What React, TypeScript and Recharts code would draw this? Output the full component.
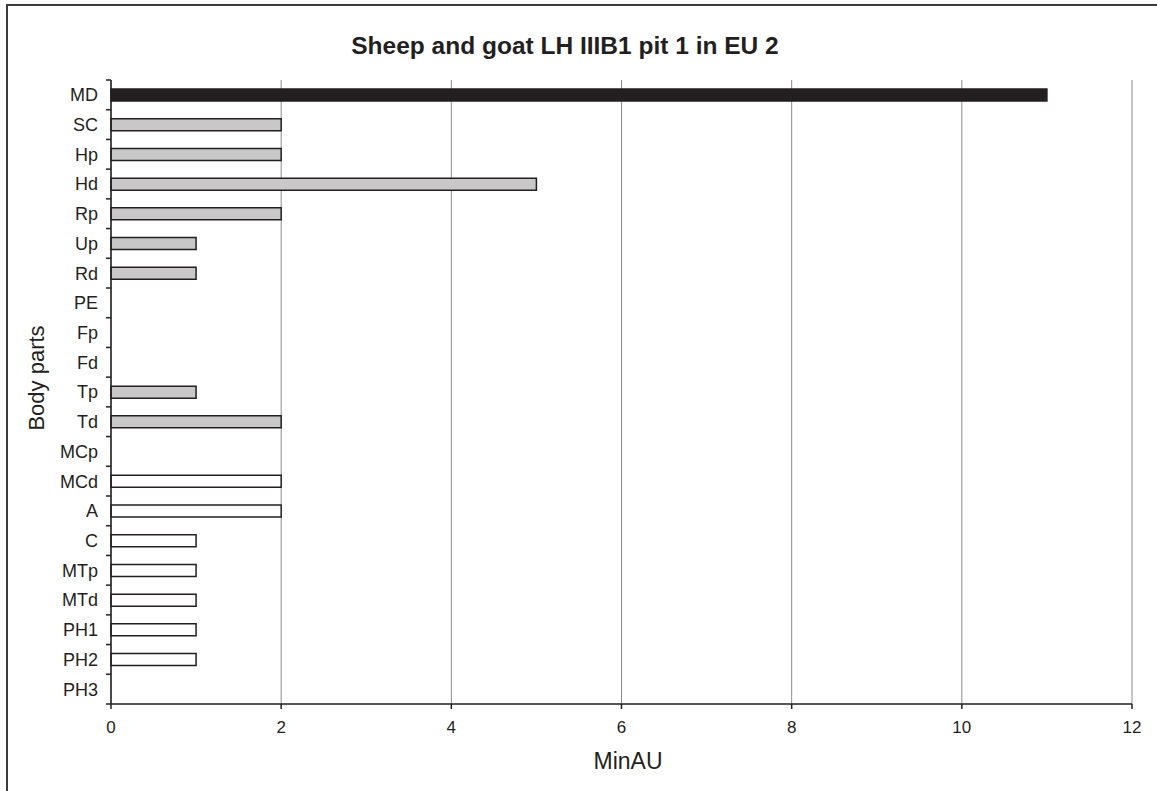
import React from 'react';
import { BarChart, Bar, XAxis, YAxis, CartesianGrid, Cell } from 'recharts';

const categories = ['MD', 'SC', 'Hp', 'Hd', 'Rp', 'Up', 'Rd', 'PE', 'Fp', 'Fd', 'Tp', 'Td', 'MCp', 'MCd', 'A', 'C', 'MTp', 'MTd', 'PH1', 'PH2', 'PH3'];
const minAU = [11, 2, 2, 5, 2, 1, 1, 0, 0, 0, 1, 2, 0, 2, 2, 1, 1, 1, 1, 1, 0];
const groups = ['head', 'fore', 'fore', 'fore', 'fore', 'fore', 'fore', 'hind', 'hind', 'hind', 'hind', 'hind', 'foot', 'foot', 'foot', 'foot', 'foot', 'foot', 'foot', 'foot', 'foot'];
const groupFill: Record<string, string> = { head: '#231f20', fore: '#c8c8c8', hind: '#c8c8c8', foot: '#ffffff' };
const xTicks = [0, 2, 4, 6, 8, 10, 12];

const data = categories.map((name, i) => ({ name, value: minAU[i], group: groups[i] }));

const FONT = '"Liberation Sans", Arial, Helvetica, sans-serif';
const INK = '#231f20';
const AXIS_X = 111;

const CategoryTick = (props: any) => {
  const { x, y, payload, index, visibleTicksCount } = props;
  const half = payload && payload.offset ? payload.offset : 0;
  const axisX = x + 13;
  const isLast = index === visibleTicksCount - 1;
  return (
    <g>
      <line x1={axisX - 5} x2={axisX} y1={y - half} y2={y - half} stroke={INK} strokeWidth={1.5} />
      {isLast && <line x1={axisX - 5} x2={axisX} y1={y + half} y2={y + half} stroke={INK} strokeWidth={1.5} />}
      <text x={x} y={y} dy="0.36em" textAnchor="end" fontFamily={FONT} fontSize={18} fill={INK}>
        {payload.value}
      </text>
    </g>
  );
};

const NumberTick = (props: any) => {
  const { x, y, payload } = props;
  return (
    <text x={x} y={y} dy="0.71em" textAnchor="middle" fontFamily={FONT} fontSize={17} fill={INK}>
      {payload.value}
    </text>
  );
};

export default function App() {
  return (
    <div style={{ position: 'absolute', left: 0, top: 0, width: 1157, height: 791, overflow: 'hidden', background: '#fff', fontFamily: FONT }}>
      <div style={{ position: 'absolute', left: 6, top: 4, width: 1300, height: 1000, border: '2px solid #3a3a3a', boxSizing: 'border-box' }} />
      <div style={{ position: 'absolute', left: 0, top: 0 }}>
        <BarChart
          width={1157}
          height={791}
          data={data}
          layout="vertical"
          margin={{ top: 80, right: 25, bottom: 57, left: 11 }}
          barCategoryGap={0}
        >
          <CartesianGrid horizontal={false} vertical={true} stroke="#8c8c8c" strokeWidth={1} />
          <XAxis
            type="number"
            domain={[0, 12]}
            ticks={xTicks}
            height={30}
            axisLine={{ stroke: INK, strokeWidth: 1.5 }}
            tickLine={{ stroke: INK, strokeWidth: 1.5 }}
            tickSize={5}
            tickMargin={12}
            tick={<NumberTick />}
            interval={0}
          />
          <YAxis
            type="category"
            dataKey="name"
            width={100}
            axisLine={{ stroke: INK, strokeWidth: 1.5 }}
            tickLine={false}
            tickSize={5}
            tickMargin={8}
            interval={0}
            tick={<CategoryTick />}
          />
          <Bar dataKey="value" barSize={12} stroke={INK} strokeWidth={1.5} isAnimationActive={false}>
            {data.map((d, i) => (
              <Cell key={i} fill={groupFill[d.group]} />
            ))}
          </Bar>
        </BarChart>
      </div>
      <svg width={1157} height={791} style={{ position: 'absolute', left: 0, top: 0, pointerEvents: 'none' }}>
        <text x={565} y={54} textAnchor="middle" fontFamily={FONT} fontSize={24.5} fontWeight="bold" fill={INK}>
          Sheep and goat LH IIIB1 pit 1 in EU 2
        </text>
        <text x={628} y={769} textAnchor="middle" fontFamily={FONT} fontSize={23} fill={INK}>
          MinAU
        </text>
        <text x={44} y={378} textAnchor="middle" fontFamily={FONT} fontSize={22} fill={INK} transform="rotate(-90 44 378)">
          Body parts
        </text>
      </svg>
    </div>
  );
}
